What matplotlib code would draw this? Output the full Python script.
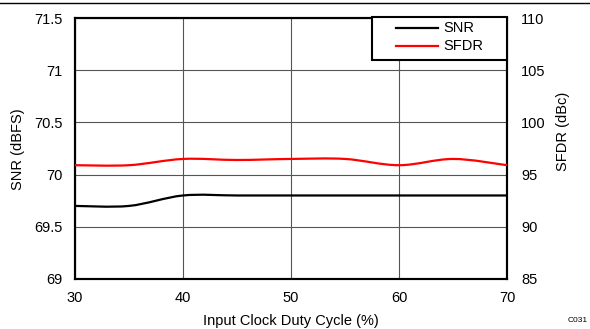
import numpy as np
import matplotlib
matplotlib.use("Agg")
import matplotlib.pyplot as plt
from matplotlib.path import Path
from matplotlib.patches import PathPatch, Rectangle
from matplotlib.lines import Line2D

plt.rcParams["font.family"] = ["Liberation Sans", "DejaVu Sans"]
plt.rcParams["font.size"] = 10.5

duty_cycle = [30, 35, 40, 45, 50, 55, 60, 65, 70]
snr_dbfs = [69.70, 69.70, 69.80, 69.80, 69.80, 69.80, 69.80, 69.80, 69.80]
sfdr_dbc = [95.9, 95.9, 96.5, 96.4, 96.5, 96.5, 95.9, 96.5, 95.9]

x_ticks = [30, 40, 50, 60, 70]
snr_ticks = [69, 69.5, 70, 70.5, 71, 71.5]
sfdr_ticks = [85, 90, 95, 100, 105, 110]

series_names = ["SNR", "SFDR"]
series_colors = ["black", "#ff0000"]


def smooth_path(xs, ys):
    # Excel-style smoothed line drawn as cubic bezier segments
    pts = np.column_stack([xs, ys]).astype(float)
    verts = [pts[0]]
    codes = [Path.MOVETO]
    n = len(pts)
    for i in range(n - 1):
        p0 = pts[max(i - 1, 0)]
        p1 = pts[i]
        p2 = pts[i + 1]
        p3 = pts[min(i + 2, n - 1)]
        c1 = p1 + (p2 - p0) / 6.0
        c2 = p2 - (p3 - p1) / 6.0
        verts += [c1, c2, p2]
        codes += [Path.CURVE4] * 3
    return Path(verts, codes)


fig = plt.figure(figsize=(5.9, 3.29), dpi=100)
fig.subplots_adjust(left=75 / 590, right=507 / 590, top=1 - 18 / 329, bottom=1 - 279 / 329)
ax = fig.add_subplot(111)
ax2 = ax.twinx()

ax.set_xlim(30, 70)
ax.set_ylim(69, 71.5)
ax2.set_ylim(85, 110)
ax.set_xticks(x_ticks)
ax.set_yticks(snr_ticks)
ax2.set_yticks(sfdr_ticks)
ax.set_yticklabels([f"{v:g}" for v in snr_ticks])

ax.grid(True, color="#555555", linewidth=0.8)
ax.tick_params(axis="both", length=0)
ax.tick_params(axis="y", pad=9)
ax.tick_params(axis="x", pad=8.5)
ax2.tick_params(axis="y", length=0, pad=10)
for a in (ax, ax2):
    for sp in a.spines.values():
        sp.set_linewidth(1.5)
        sp.set_color("black")

ax.add_patch(PathPatch(smooth_path(duty_cycle, snr_dbfs), fill=False,
                       edgecolor=series_colors[0], linewidth=1.6, zorder=3))
ax2.add_patch(PathPatch(smooth_path(duty_cycle, sfdr_dbc), fill=False,
                        edgecolor=series_colors[1], linewidth=1.6, zorder=3))

# legend box drawn by hand so its padding matches the original
tr = ax2.transAxes
ax2.add_patch(Rectangle((0.6875, 0.839), 0.3125, 0.165, transform=tr,
                        facecolor="white", edgecolor="black", linewidth=1.5,
                        zorder=10, clip_on=False))
for i, (name, color) in enumerate(zip(series_names, series_colors)):
    y = 0.9617 - i * 0.069
    ax2.add_line(Line2D([0.743, 0.840], [y, y], transform=tr, color=color,
                        linewidth=1.6, zorder=11, clip_on=False))
    ax2.text(0.852, y, name, transform=tr, ha="left", va="center", zorder=11)

fig.text(18 / 590, 1 - 149 / 329, "SNR (dBFS)", rotation=90, ha="center", va="center")
fig.text(563 / 590, 1 - 131 / 329, "SFDR (dBc)", rotation=90, ha="center", va="center")
fig.text(291 / 590, 1 - 321 / 329, "Input Clock Duty Cycle (%)", ha="center", va="center")
fig.text(578 / 590, 1 - 321 / 329, "C031", ha="center", va="center", fontsize=6)
fig.add_artist(Line2D([0, 1], [1 - 3 / 329, 1 - 3 / 329], color="black", linewidth=1.0))

fig.savefig("out.png", dpi=100)
